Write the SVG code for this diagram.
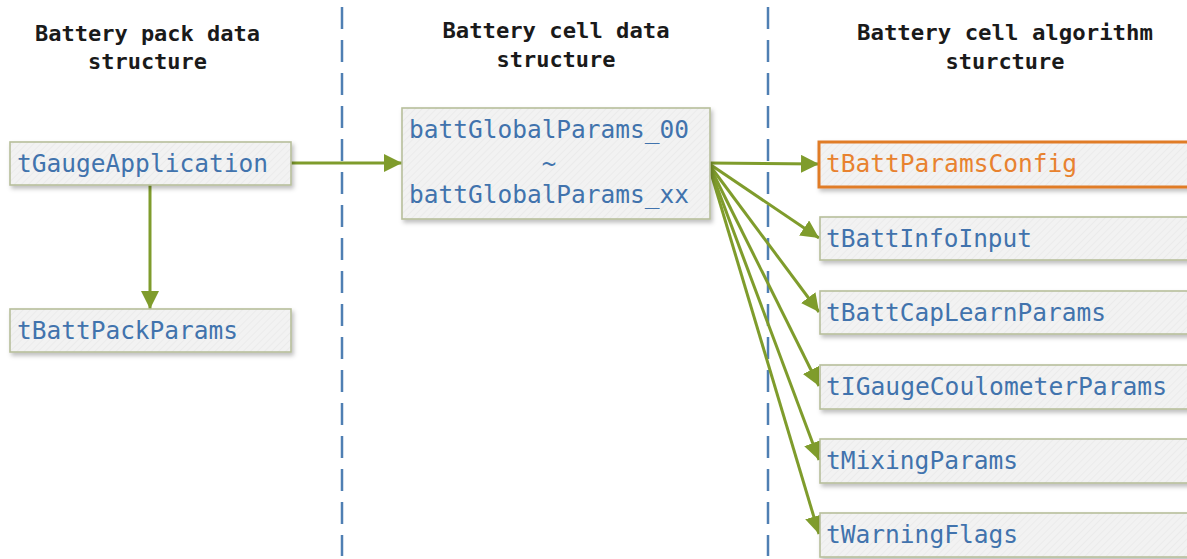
<svg xmlns="http://www.w3.org/2000/svg" width="1187" height="559" viewBox="0 0 1187 559">
<style>
.hdr{font-family:"DejaVu Sans Mono","Liberation Mono",monospace;font-weight:bold;font-size:22px;fill:#1a1a1a;text-anchor:middle}
.lbl{font-family:"DejaVu Sans Mono","Liberation Mono",monospace;font-size:24px;fill:#4173ad}
.box{fill:url(#hatch);stroke:#b7bf9b;stroke-width:1.6;filter:url(#sh)}
.sel{fill:url(#hatch);stroke:#e07b28;stroke-width:3;filter:url(#sh)}
.div{stroke:#4f7fb3;stroke-width:2.5;stroke-dasharray:22 11;fill:none}
.con{stroke:#7f9c2c;stroke-width:3;fill:none;marker-end:url(#ah)}
</style>
<defs>
<pattern id="hatch" patternUnits="userSpaceOnUse" width="5" height="5" patternTransform="rotate(45)">
<rect width="5" height="5" fill="#f2f2f2"/>
<line x1="0" y1="0" x2="0" y2="5" stroke="#e9e9e9" stroke-width="1.5"/>
</pattern>
<filter id="sh" x="-10%" y="-20%" width="130%" height="160%">
<feDropShadow dx="2" dy="3" stdDeviation="2" flood-color="#000" flood-opacity="0.25"/>
</filter>
<marker id="ah" markerUnits="userSpaceOnUse" markerWidth="20" markerHeight="20" refX="18" refY="9" orient="auto">
<path d="M0,0 L18,9 L0,18 Z" fill="#7f9c2c"/>
</marker>
</defs>
<rect width="1187" height="559" fill="#fff"/>
<g id="dividers">
<line class="div" x1="342" y1="7" x2="342" y2="556"/>
<line class="div" x1="768" y1="7" x2="768" y2="556"/>
</g>
<g id="headers">
<text class="hdr" x="147.5" y="41" textLength="225" lengthAdjust="spacingAndGlyphs">Battery pack data</text>
<text class="hdr" x="147.5" y="69" textLength="119" lengthAdjust="spacingAndGlyphs">structure</text>
<text class="hdr" x="556" y="38" textLength="227" lengthAdjust="spacingAndGlyphs">Battery cell data</text>
<text class="hdr" x="556" y="67" textLength="119" lengthAdjust="spacingAndGlyphs">structure</text>
<text class="hdr" x="1005" y="40" textLength="296" lengthAdjust="spacingAndGlyphs">Battery cell algorithm</text>
<text class="hdr" x="1005" y="69" textLength="119" lengthAdjust="spacingAndGlyphs">sturcture</text>
</g>
<g id="connectors">
<line class="con" x1="291" y1="163" x2="402" y2="163"/>
<line class="con" x1="150" y1="185" x2="150" y2="309"/>
<line class="con" x1="708" y1="163" x2="819" y2="164"/>
<line class="con" x1="708" y1="163" x2="819" y2="238"/>
<line class="con" x1="708" y1="163" x2="819" y2="312"/>
<line class="con" x1="708" y1="163" x2="819" y2="386"/>
<line class="con" x1="708" y1="163" x2="819" y2="460"/>
<line class="con" x1="708" y1="163" x2="819" y2="534"/>
</g>
<g id="tGaugeApplication">
<rect class="box" x="10" y="142" width="281" height="43"/>
<text class="lbl" x="17" y="172" textLength="251" lengthAdjust="spacingAndGlyphs">tGaugeApplication</text>
</g>
<g id="tBattPackParams">
<rect class="box" x="10" y="309" width="281" height="43"/>
<text class="lbl" x="17" y="339" textLength="221" lengthAdjust="spacingAndGlyphs">tBattPackParams</text>
</g>
<g id="battGlobalParams">
<rect class="box" x="402" y="108" width="308" height="111"/>
<text class="lbl" x="409" y="138" textLength="280" lengthAdjust="spacingAndGlyphs">battGlobalParams_00</text>
<text class="lbl" x="549" y="172" text-anchor="middle">~</text>
<text class="lbl" x="409" y="203" textLength="280" lengthAdjust="spacingAndGlyphs">battGlobalParams_xx</text>
</g>
<g id="tBattParamsConfig">
<rect class="sel" x="819" y="142" width="380" height="45"/>
<text class="lbl" x="826" y="172" style="fill:#e8822f" textLength="251" lengthAdjust="spacingAndGlyphs">tBattParamsConfig</text>
</g>
<g id="tBattInfoInput">
<rect class="box" x="820" y="217" width="380" height="43"/>
<text class="lbl" x="826" y="247" textLength="206" lengthAdjust="spacingAndGlyphs">tBattInfoInput</text>
</g>
<g id="tBattCapLearnParams">
<rect class="box" x="820" y="291" width="380" height="43"/>
<text class="lbl" x="826" y="321" textLength="280" lengthAdjust="spacingAndGlyphs">tBattCapLearnParams</text>
</g>
<g id="tIGaugeCoulometerParams">
<rect class="box" x="820" y="365" width="380" height="44"/>
<text class="lbl" x="826" y="395" textLength="341" lengthAdjust="spacingAndGlyphs">tIGaugeCoulometerParams</text>
</g>
<g id="tMixingParams">
<rect class="box" x="820" y="439" width="380" height="44"/>
<text class="lbl" x="826" y="469" textLength="192" lengthAdjust="spacingAndGlyphs">tMixingParams</text>
</g>
<g id="tWarningFlags">
<rect class="box" x="820" y="513" width="380" height="44"/>
<text class="lbl" x="826" y="543" textLength="192" lengthAdjust="spacingAndGlyphs">tWarningFlags</text>
</g>
</svg>
